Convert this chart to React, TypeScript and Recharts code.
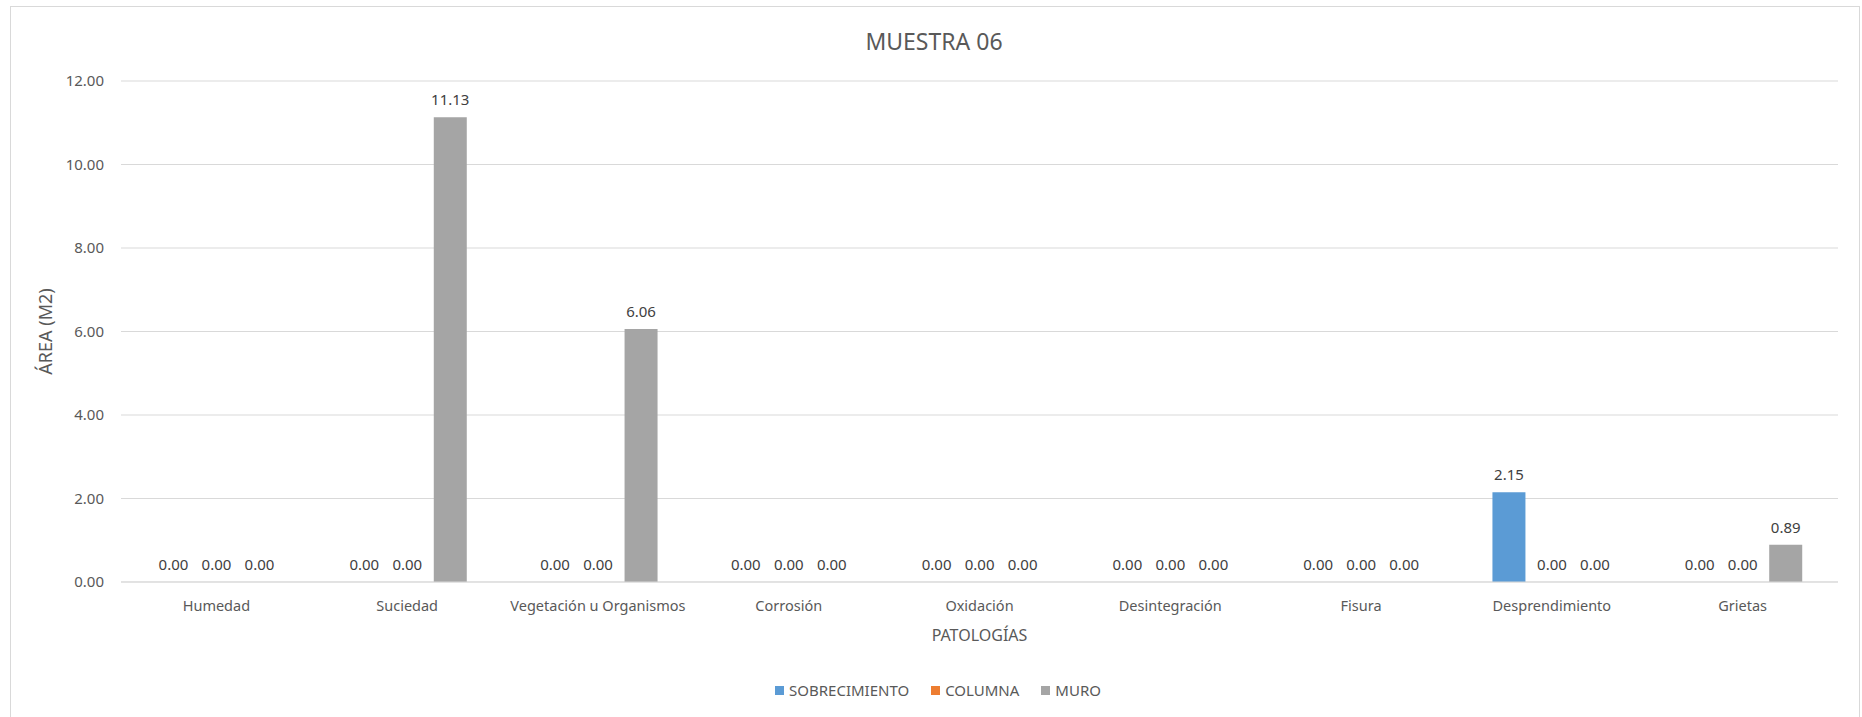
import React from 'react';
import { BarChart, Bar, XAxis, YAxis, CartesianGrid, Legend, LabelList } from 'recharts';

const categories = [
    'Humedad',
    'Suciedad',
    'Vegetación u Organismos',
    'Corrosión',
    'Oxidación',
    'Desintegración',
    'Fisura',
    'Desprendimiento',
    'Grietas',
];

const sobrecimiento = [0, 0, 0, 0, 0, 0, 0, 2.15, 0];
const columna = [0, 0, 0, 0, 0, 0, 0, 0, 0];
const muro = [0, 11.13, 6.06, 0, 0, 0, 0, 0, 0.89];

const yTicks = [0, 2, 4, 6, 8, 10, 12];

const series = [
    { key: 'SOBRECIMIENTO', color: '#5B9BD5' },
    { key: 'COLUMNA', color: '#ED7D31' },
    { key: 'MURO', color: '#A5A5A5' },
];

const chartData = categories.map((name, i) => ({
    name,
    SOBRECIMIENTO: sobrecimiento[i],
    COLUMNA: columna[i],
    MURO: muro[i],
}));

const FONT = '"Noto Sans", "Open Sans", sans-serif';
const fmt = (v) => Number(v).toFixed(2);

const renderLegend = () => (
    <div style={{ height: 20, display: 'flex', justifyContent: 'center', alignItems: 'center', fontFamily: FONT, fontSize: 15, color: '#595959' }}>
        {series.map((s, i) => (
            <div key={s.key} style={{ display: 'flex', alignItems: 'center', marginLeft: i === 0 ? 0 : 22 }}>
                <span style={{ width: 9, height: 9, background: s.color, display: 'inline-block', marginRight: 5 }} />
                <span>{s.key}</span>
            </div>
        ))}
    </div>
);

export default function App() {
    return (
        <div style={{ position: 'absolute', left: 0, top: 0, width: 1862, height: 717, background: '#fff', overflow: 'hidden' }}>
            <div style={{ position: 'absolute', left: 10, top: 6, width: 1848, height: 760, border: '1px solid #D9D9D9' }} />
            <div style={{ position: 'absolute', left: 0, top: 28, width: 1868, textAlign: 'center', fontFamily: FONT, fontSize: 23, lineHeight: '26px', color: '#595959' }}>
                MUESTRA 06
            </div>
            <div style={{ position: 'absolute', left: 0, top: 0 }}>
                <BarChart
                    width={1862}
                    height={717}
                    data={chartData}
                    margin={{ top: 81, right: 24, left: 21, bottom: 17 }}
                    barSize={33}
                    barGap={10}
                >
                    <CartesianGrid vertical={false} stroke="#D9D9D9" />
                    <XAxis
                        dataKey="name"
                        height={98}
                        tickLine={false}
                        tickMargin={13}
                        axisLine={{ stroke: '#D9D9D9' }}
                        tick={{ fill: '#595959', fontSize: 14.5, fontFamily: FONT }}
                        interval={0}
                        label={{ value: 'PATOLOGÍAS', position: 'insideBottom', offset: 39, fill: '#595959', fontSize: 16, fontFamily: FONT }}
                    />
                    <YAxis
                        width={100}
                        domain={[0, 12]}
                        ticks={yTicks}
                        tickFormatter={fmt}
                        axisLine={false}
                        tickLine={false}
                        tickMargin={11}
                        tick={{ fill: '#595959', fontSize: 15, fontFamily: FONT }}
                        label={{ value: 'ÁREA (M2)', angle: -90, position: 'insideLeft', offset: 25, fill: '#595959', fontSize: 18, fontFamily: FONT, style: { textAnchor: 'middle' } }}
                    />
                    <Legend verticalAlign="bottom" content={renderLegend} wrapperStyle={{ left: 0, width: 1876 }} />
                    {series.map((s) => (
                        <Bar key={s.key} dataKey={s.key} fill={s.color} minPointSize={0.001} isAnimationActive={false}>
                            <LabelList dataKey={s.key} position="top" offset={12} formatter={fmt} fill="#404040" fontSize={15} fontFamily={FONT} />
                        </Bar>
                    ))}
                </BarChart>
            </div>
        </div>
    );
}
